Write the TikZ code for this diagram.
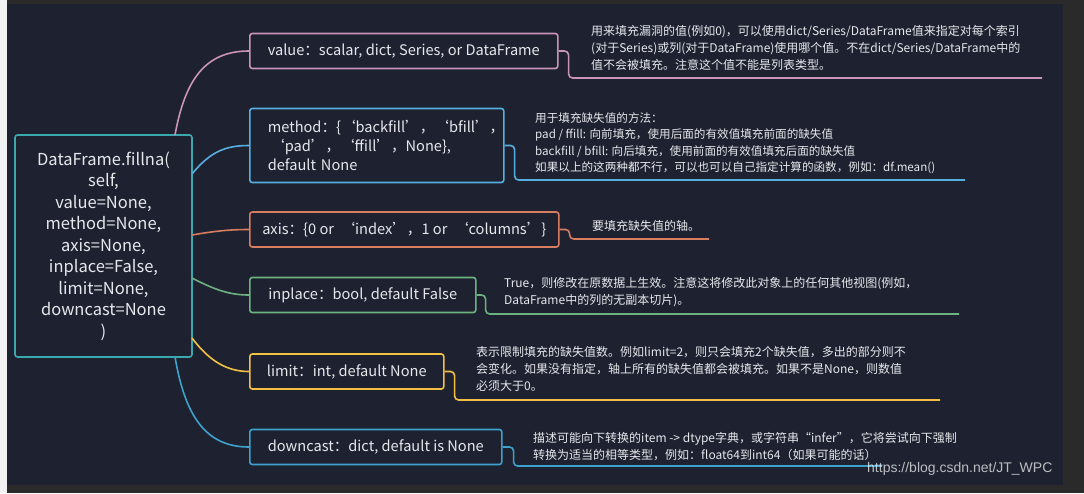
\documentclass[tikz,border=0pt]{standalone}
\usepackage{fontspec}
\setmainfont{Noto Sans CJK SC}
\newfontfamily\wmfont{Liberation Sans}
\definecolor{panel}{HTML}{1E2230}
\definecolor{outerg}{HTML}{2A2A2B}
\definecolor{leftg}{HTML}{F2F2F2}
\definecolor{txt}{HTML}{E6E8EC}
\definecolor{cmain}{HTML}{3AA9AE}
\definecolor{cpink}{HTML}{C993BA}
\definecolor{cblue}{HTML}{58AEE0}
\definecolor{corange}{HTML}{D87C62}
\definecolor{cgreen}{HTML}{6DB382}
\definecolor{cyellow}{HTML}{F2C143}
\definecolor{cblue2}{HTML}{3DA2CC}
\tikzset{
  x=1pt, y=-1pt,
  box/.style={draw, line width=1.6pt, rounded corners=2.5pt, fill=panel, text=txt, inner sep=0pt},
  kid/.style={box, font=\fontsize{14.6}{19}\selectfont, anchor=west, minimum height=35pt},
  desc/.style={text=txt, font=\fontsize{12}{17}\selectfont, align=left, inner sep=0pt, anchor=north west},
  link/.style={line width=1.6pt},
  lead/.style={line width=1.6pt, rounded corners=4pt},
}
\begin{document}
\begin{tikzpicture}
\fill[outerg] (0,0) rectangle (1084,493);
\fill[leftg] (0,0) rectangle (7,493);
\fill[panel] (7,4) rectangle (1063,485);
\useasboundingbox (0,0) rectangle (1084,493);

% main node
\node[box, draw=cmain, minimum width=177pt, minimum height=222pt, align=center,
      font=\fontsize{16.5}{21.5}\selectfont] (main) at (103.5,246)
  {DataFrame.fillna(\\self,\\value=None,\\method=None,\\axis=None,\\inplace=False,\\limit=None,\\downcast=None\\)};

% child nodes
\node[kid, draw=cblue, minimum width=254pt, minimum height=74pt, align=left, text width=218pt, inner xsep=0pt] (method) at (249,145.5)
  {method：{\{}‘backfill’，‘bfill’，\\\,‘pad’，‘ffill’，None\},\\default None};
\node[kid, draw=cpink, minimum width=308pt] (value) at (249,51) {value：scalar, dict, Series, or DataFrame};
\node[kid, draw=corange, minimum width=309pt] (axis) at (249,229.5) {axis：\{0 or\ \ ‘index’，1 or\ \ ‘columns’\}};
\node[kid, draw=cgreen, minimum width=226pt] (inplace) at (249,295) {inplace：bool, default False};
\node[kid, draw=cyellow, minimum width=194pt] (limit) at (249,371.5) {limit：int, default None};
\node[kid, draw=cblue2, minimum width=252pt] (downcast) at (249,447) {downcast：dict, default is None};

% connectors from main
\coordinate (m1) at (175,135);
\coordinate (m2) at (192,174);
\coordinate (m3) at (192,235);
\coordinate (m4) at (192,278);
\coordinate (m5) at (192,338);
\coordinate (m6) at (175,357);
\draw[link, cpink] (m1) .. controls (185,80) and (205,51) .. (value.west);
\draw[link, cblue] (m2) .. controls (210,152) and (225,145.5) .. (method.west);
\draw[link, corange] (m3) .. controls (215,231) and (230,229.5) .. (axis.west);
\draw[link, cgreen] (m4) .. controls (215,290) and (230,295) .. (inplace.west);
\draw[link, cyellow] (m5) .. controls (210,362) and (228,371.5) .. (limit.west);
\draw[link, cblue2] (m6) .. controls (185,415) and (205,447) .. (downcast.west);

% descriptions
\node[desc] (dvalue) at (591,25)
  {用来填充漏洞的值(例如0)，可以使用dict/Series/DataFrame值来指定对每个索引\\(对于Series)或列(对于DataFrame)使用哪个值。不在dict/Series/DataFrame中的\\值不会被填充。注意这个值不能是列表类型。};
\node[desc, font=\fontsize{11.6}{16.5}\selectfont] (dmethod) at (535,112)
  {用于填充缺失值的方法：\\pad / ffill: 向前填充，使用后面的有效值填充前面的缺失值\\backfill / bfill: 向后填充，使用前面的有效值填充后面的缺失值\\如果以上的这两种都不行，可以也可以自己指定计算的函数，例如：df.mean()};
\node[desc] (daxis) at (592,220) {要填充缺失值的轴。};
\node[desc] (dinplace) at (504,277)
  {True，则修改在原数据上生效。注意这将修改此对象上的任何其他视图(例如，\\DataFrame中的列的无副本切片)。};
\node[desc] (dlimit) at (476,346)
  {表示限制填充的缺失值数。例如limit=2，则只会填充2个缺失值，多出的部分则不\\会变化。如果没有指定，轴上所有的缺失值都会被填充。如果不是None，则数值\\必须大于0。};
\node[desc] (ddowncast) at (533,432)
  {描述可能向下转换的item -> dtype字典，或字符串“infer”，它将尝试向下强制\\转换为适当的相等类型，例如：float64到int64（如果可能的话）};

% underline leads
\coordinate (e1) at (1042,78);
\coordinate (e2) at (965,180);
\coordinate (e3) at (709,239);
\coordinate (e4) at (959,314);
\coordinate (e5) at (940,400);
\coordinate (e6) at (882,466);
\draw[lead, cpink] (value.east) -- ++(10,0) |- (e1);
\draw[lead, cblue] (method.east) -- ++(10,0) |- (e2);
\draw[lead, corange] (axis.east) -- ++(10,0) |- (e3);
\draw[lead, cgreen] (inplace.east) -- ++(9,0) |- (e4);
\draw[lead, cyellow] (limit.east) -- ++(10,0) |- (e5);
\draw[lead, cblue2] (downcast.east) -- ++(11,0) |- (e6);

% watermark
\node[text=white, opacity=0.7, font=\wmfont\fontsize{14}{15}\selectfont, inner sep=0pt, anchor=west] (wm) at (867,469) {https://blog.csdn.net/JT\_WPC};
\end{tikzpicture}
\end{document}
